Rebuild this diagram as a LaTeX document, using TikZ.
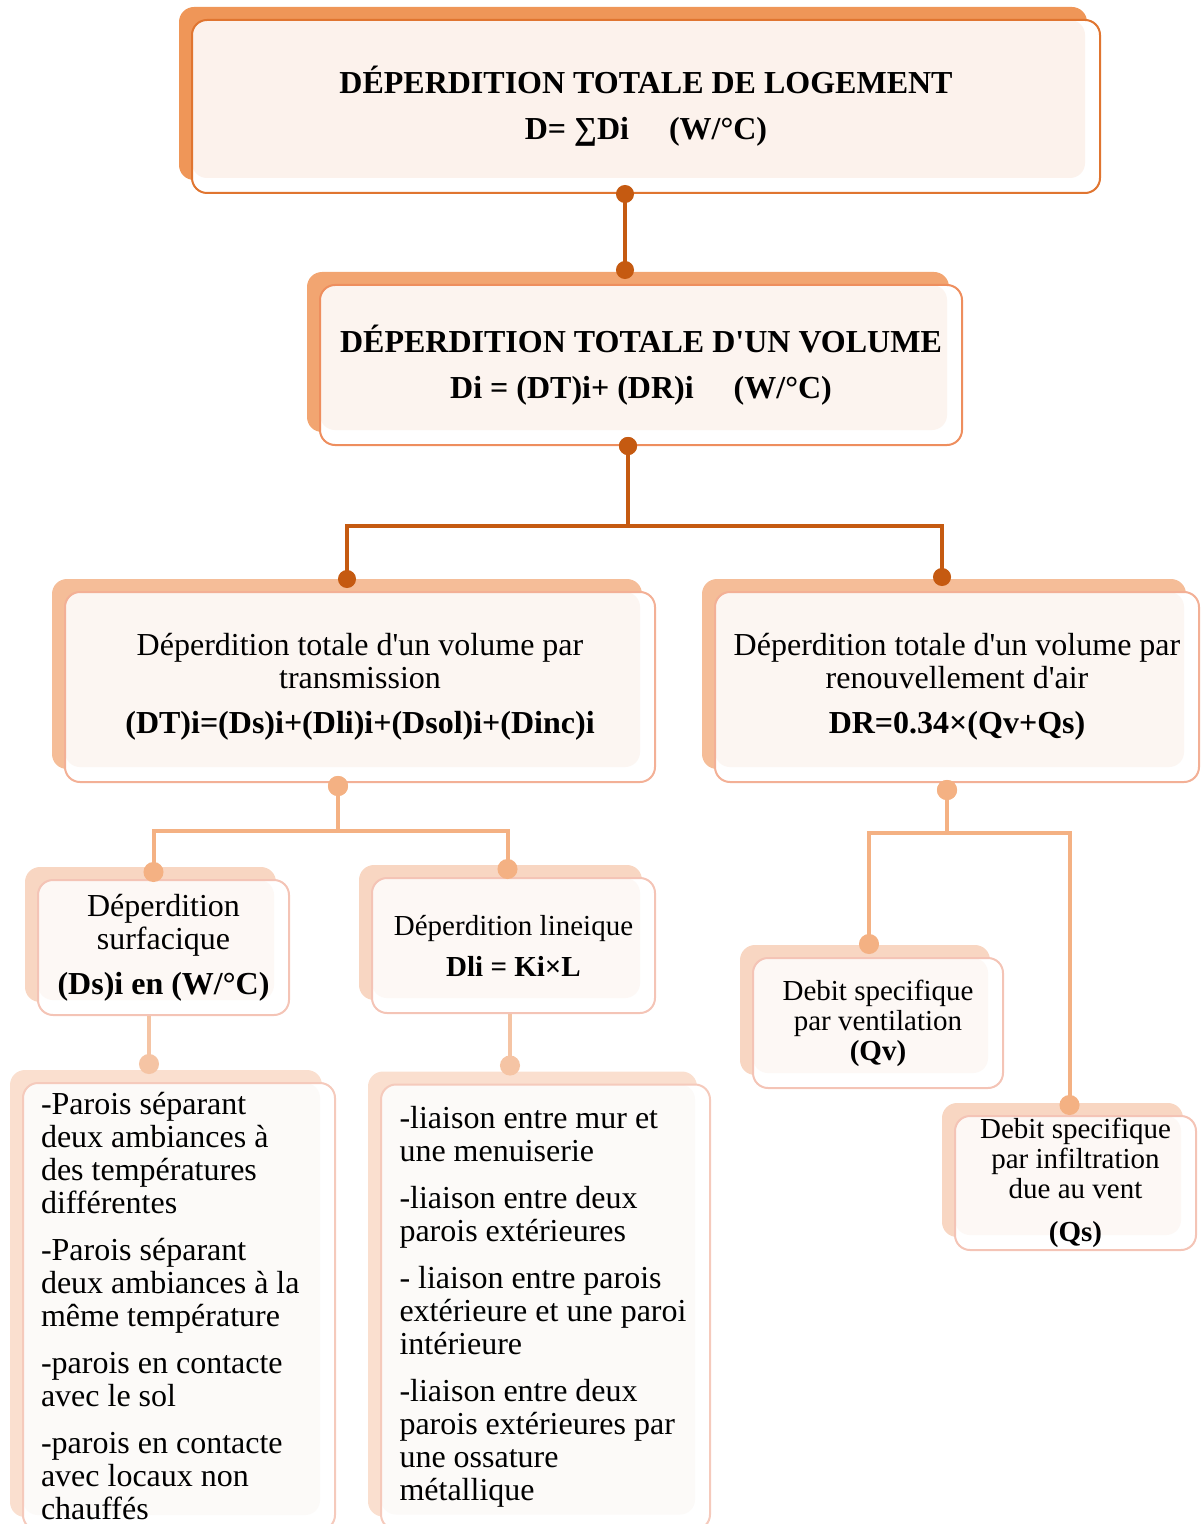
\documentclass[tikz,border=0pt]{standalone}
\usepackage{fontspec}
\setmainfont{Liberation Serif}[Ligatures=TeXOff]
\usetikzlibrary{positioning,arrows.meta}

\definecolor{backA}{HTML}{EF9658}
\definecolor{lineA}{HTML}{E07530}
\definecolor{paleA}{HTML}{FCF2EC}
\definecolor{backB}{HTML}{F2A571}
\definecolor{lineB}{HTML}{EE8E5E}
\definecolor{paleB}{HTML}{FCF4EF}
\definecolor{backC}{HTML}{F5BD98}
\definecolor{lineC}{HTML}{F3B096}
\definecolor{paleC}{HTML}{FCF6F2}
\definecolor{backD}{HTML}{F8D6C2}
\definecolor{lineD}{HTML}{F4C4B6}
\definecolor{paleD}{HTML}{FDF8F5}
\definecolor{backE}{HTML}{FADFCF}
\definecolor{lineE}{HTML}{F5CABC}
\definecolor{paleE}{HTML}{FCFAF8}
\definecolor{linkdark}{HTML}{C55A11}
\definecolor{linklight}{HTML}{F4B183}
\definecolor{linkpale}{HTML}{F5C4A4}

\begin{document}
\begin{tikzpicture}[x=0.5pt,y=-0.5pt,
  box/.style n args={3}{draw=#2, line width=1pt, fill=white, rounded corners=7.5pt,
    inner sep=0pt, align=center, text=black,
    preaction={fill=#1, transform canvas={shift={(-6.5pt,6.5pt)}}},
    path picture={\fill[#3, rounded corners=7.5pt] (path picture bounding box.north west)
      rectangle ([xshift=-7.5pt,yshift=7.5pt]path picture bounding box.south east);}},
  boxA/.style={box={backA}{lineA}{paleA}},
  boxB/.style={box={backB}{lineB}{paleB}},
  boxC/.style={box={backC}{lineC}{paleC}},
  boxD/.style={box={backD}{lineD}{paleD}},
  boxE/.style={box={backE}{lineE}{paleE}, align=flush left},
  big/.style={font=\fontsize{16}{16.5}\selectfont},
  small/.style={font=\fontsize{14.5}{15}\selectfont},
  darklink/.style={draw=linkdark, line width=2pt, arrows={Circle[length=9pt,width=9pt]-Circle[length=9pt,width=9pt]},
    shorten <=-4.5pt, shorten >=-4.5pt},
  lightlink/.style={draw=linklight, line width=2pt, arrows={Circle[length=10pt,width=10pt]-Circle[length=10pt,width=10pt]},
    shorten <=-5pt, shorten >=-5pt},
  palelink/.style={draw=linkpale, line width=2pt, arrows={-Circle[length=10pt,width=10pt]}, shorten >=-5pt}]
  \useasboundingbox (0,0) rectangle (1200,1524);

  % boxes
  \node[boxA, big, minimum width=454pt, minimum height=86.5pt] (logement) at (646,106.5)
    {\textbf{DÉPERDITION TOTALE DE LOGEMENT}\\[6.5pt] \textbf{D= ∑Di\hspace{20pt}(W/°C)}};
  \node[boxB, big, minimum width=321pt, minimum height=80pt] (volume) at (641,365)
    {\textbf{DÉPERDITION TOTALE D'UN VOLUME}\\[6.5pt] \textbf{Di = (DT)i+ (DR)i\quad\ (W/°C)}};
  \node[boxC, big, minimum width=295pt, minimum height=95pt] (transm) at (360,687)
    {Déperdition totale d'un volume par\\ transmission\\[6pt] \textbf{(DT)i=(Ds)i+(Dli)i+(Dsol)i+(Dinc)i}};
  \node[boxC, big, minimum width=242pt, minimum height=95pt] (renouv) at (957,687)
    {Déperdition totale d'un volume par\\ renouvellement d'air\\[6pt] \textbf{DR=0.34×(Qv+Qs)}};
  \node[boxD, big, minimum width=125.5pt, minimum height=67.5pt] (surf) at (163.5,947.5)
    {Déperdition\\ surfacique\\[6pt] \textbf{(Ds)i en (W/°C)}};
  \node[boxD, small, minimum width=141.5pt, minimum height=67.5pt] (lineique) at (513.5,945.5)
    {Déperdition lineique\\[5.5pt] \textbf{Dli = Ki×L}};
  \node[boxD, small, minimum width=125pt, minimum height=65pt] (ventil) at (878,1023)
    {Debit specifique\\ par ventilation\\ \textbf{(Qv)}};
  \node[boxD, small, minimum width=120.5pt, minimum height=67pt] (infil) at (1075.5,1183)
    {Debit specifique\\ par infiltration\\ due au vent\\[6.5pt] \textbf{(Qs)}};
  \node[boxE, big, text width=138pt, minimum width=156pt, minimum height=223.5pt] (parois) at (179,1306.5)
    {-Parois séparant\\ deux ambiances à\\ des températures\\ différentes\\[7pt]
     -Parois séparant\\ deux ambiances à la\\ même température\\[7pt]
     -parois en contacte\\ avec le sol\\[7pt]
     -parois en contacte\\ avec locaux non\\ chauffés};
  \node[boxE, big, text width=146pt, minimum width=164.5pt, minimum height=222.5pt] (liaisons) at (545.5,1307)
    {-liaison entre mur et\\ une menuiserie\\[7pt]
     -liaison entre deux\\ parois extérieures\\[7pt]
     - liaison entre parois\\ extérieure et une paroi\\ intérieure\\[7pt]
     -liaison entre deux\\ parois extérieures par\\ une ossature\\ métallique};

  % connectors
  \draw[darklink] ([xshift=-10.5pt]logement.south) -- ([xshift=-8pt,yshift=7pt]volume.north);
  \draw[darklink] ([xshift=-6.5pt]volume.south) -- ++(0,80) -| ([xshift=-6.5pt,yshift=6pt]transm.north);
  \draw[darklink] ([xshift=-6.5pt]volume.south) -- ++(0,80) -| ([xshift=-7.5pt,yshift=7pt]renouv.north);
  \draw[lightlink] ([xshift=-11pt,yshift=-1.5pt]transm.south) -- ++(0,45) -| ([xshift=-5pt,yshift=3.5pt]surf.north);
  \draw[lightlink] ([xshift=-11pt,yshift=-1.5pt]transm.south) -- ++(0,45) -| ([xshift=-3pt,yshift=4pt]lineique.north);
  \draw[lightlink] ([xshift=-5pt,yshift=-3.5pt]renouv.south) -- ++(0,43) -| ([xshift=-4.5pt,yshift=6.5pt]ventil.north);
  \draw[lightlink] ([xshift=-5pt,yshift=-3.5pt]renouv.south) -- ++(0,43) -| ([xshift=-3pt,yshift=5pt]infil.north);
  \draw[palelink] ([xshift=-7.25pt]surf.south) -- ([xshift=-15pt,yshift=9pt]parois.north);
  \draw[palelink] ([xshift=-1.75pt]lineique.south) -- ([xshift=-17.75pt,yshift=9pt]liaisons.north);
\end{tikzpicture}
\end{document}
